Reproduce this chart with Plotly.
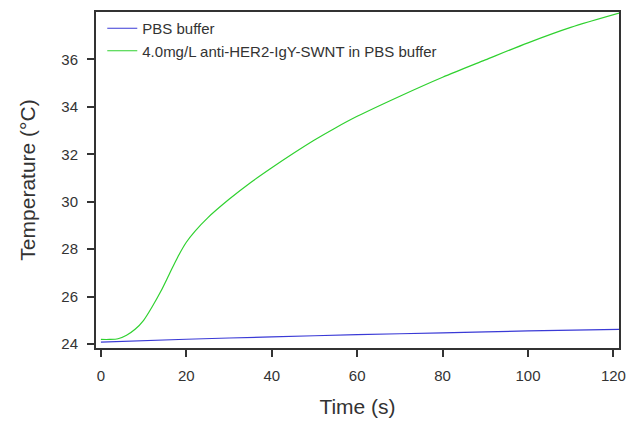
import plotly.graph_objs as go

# time axis (s)
time_pbs = [0, 20, 40, 60, 80, 100, 121.5]
temp_pbs = [24.08, 24.2, 24.3, 24.39, 24.47, 24.55, 24.62]

time_swnt = [0, 2, 4, 6, 8, 10, 12, 14, 16, 18, 20, 22, 25, 30, 35, 40, 45,
             50, 55, 60, 70, 80, 90, 100, 110, 121.5]
temp_swnt = [24.19, 24.19, 24.22, 24.37, 24.62, 25.0, 25.57, 26.21, 26.94,
             27.67, 28.29, 28.75, 29.32, 30.1, 30.8, 31.43, 32.03, 32.6,
             33.12, 33.6, 34.45, 35.25, 35.98, 36.7, 37.35, 37.96]

x_ticks = [0, 20, 40, 60, 80, 100, 120]
y_ticks = [24, 26, 28, 30, 32, 34, 36]

font_family = "Liberation Sans, Arial, sans-serif"

fig = go.Figure()
fig.add_trace(go.Scatter(x=time_pbs, y=temp_pbs, mode="lines", name="PBS buffer",
                         line=dict(color="#3a3ad6", width=1.2, shape="spline", smoothing=0.8)))
fig.add_trace(go.Scatter(x=time_swnt, y=temp_swnt, mode="lines",
                         name="4.0mg/L anti-HER2-IgY-SWNT in PBS buffer",
                         line=dict(color="#2fd12f", width=1.2, shape="spline", smoothing=0.8)))

axis_common = dict(
    showline=True, linecolor="#333333", linewidth=2, mirror=True,
    showgrid=False, zeroline=False,
    ticks="outside", ticklen=7, tickwidth=2, tickcolor="#333333",
    tickfont=dict(family=font_family, size=15, color="#333333"),
    ticklabelstandoff=6,
)

fig.update_xaxes(axis_common, range=[-1.15, 121.3], tickvals=x_ticks,
                 title=dict(text="Time (s)", font=dict(family=font_family, size=21, color="#333333"),
                            standoff=16))
fig.update_yaxes(axis_common, range=[23.83, 38.0], tickvals=y_ticks,
                 title=dict(text="Temperature (°C)", font=dict(family=font_family, size=21, color="#333333"),
                            standoff=20))

fig.update_layout(
    width=632, height=421,
    margin=dict(l=96, r=6, t=12, b=70),
    plot_bgcolor="white", paper_bgcolor="white",
    font=dict(family=font_family, color="#333333"),
    legend=dict(x=0.012, y=1.0, xanchor="left", yanchor="top",
                bgcolor="rgba(0,0,0,0)", font=dict(size=15, color="#333333"),
                tracegroupgap=0, itemwidth=30),
    showlegend=True,
)

# drop the default body margin so the figure sits at the window's corner
fig.write_html("out.html", config={"displayModeBar": False},
               post_script="document.body.style.margin='0';")
